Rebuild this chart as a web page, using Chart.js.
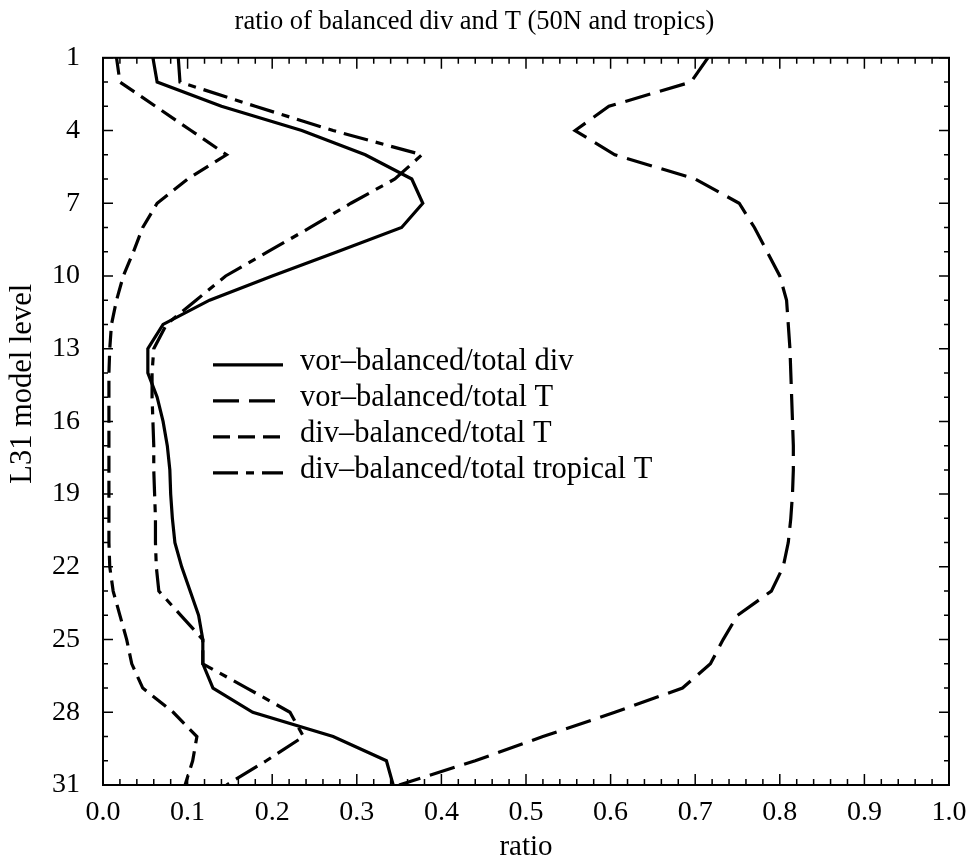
<!DOCTYPE html>
<html>
<head>
<meta charset="utf-8">
<title>ratio of balanced div and T (50N and tropics)</title>
<script src="https://cdn.jsdelivr.net/npm/chart.js@4.4.1/dist/chart.umd.min.js"></script>
<style>
  html, body { margin: 0; padding: 0; background: #fff; }
  #wrap { width: 979px; height: 865px; }
</style>
</head>
<body>
<div id="wrap"><canvas id="ratio-chart" width="979" height="865"></canvas></div>
<script>
// ---- data ----
const levels = [1, 2, 3, 4, 5, 6, 7, 8, 9, 10, 11, 12, 13, 14, 15, 16,
                17, 18, 19, 20, 21, 22, 23, 24, 25, 26, 27, 28, 29, 30, 31];

// vor-balanced / total div  (solid)
const vorDiv = [0.059, 0.064, 0.140, 0.235, 0.310, 0.365, 0.378, 0.353, 0.277, 0.200,
                0.126, 0.071, 0.053, 0.053, 0.064, 0.071, 0.076, 0.079, 0.080, 0.082,
                0.085, 0.093, 0.103, 0.113, 0.118, 0.118, 0.130, 0.177, 0.272, 0.335, 0.343];

// vor-balanced / total T  (long dash)
const vorT = [0.715, 0.695, 0.598, 0.558, 0.605, 0.700, 0.752, 0.770, 0.785, 0.800,
              0.808, 0.810, 0.812, 0.813, 0.814, 0.815, 0.816, 0.816, 0.815, 0.813,
              0.810, 0.804, 0.790, 0.750, 0.733, 0.718, 0.685, 0.605, 0.520, 0.440, 0.350];

// div-balanced / total T  (short dash)
const divT = [0.016, 0.020, 0.062, 0.104, 0.146, 0.100, 0.064, 0.047, 0.036, 0.024,
              0.016, 0.010, 0.008, 0.007, 0.007, 0.007, 0.007, 0.007, 0.007, 0.007,
              0.007, 0.008, 0.012, 0.020, 0.028, 0.034, 0.047, 0.083, 0.111, 0.106, 0.097];

// div-balanced / total tropical T  (dash-dot)
const divTropT = [0.089, 0.091, 0.180, 0.272, 0.377, 0.345, 0.293, 0.245, 0.195, 0.145,
                  0.110, 0.075, 0.060, 0.058, 0.058, 0.059, 0.060, 0.060, 0.061, 0.062,
                  0.062, 0.063, 0.066, 0.092, 0.118, 0.118, 0.170, 0.221, 0.237, 0.193, 0.146];

const seriesLabels = ['vor\u2013balanced/total div', 'vor\u2013balanced/total T',
                      'div\u2013balanced/total T', 'div\u2013balanced/total tropical T'];
const levelTicks = [1, 4, 7, 10, 13, 16, 19, 22, 25, 28, 31];
const ratioTicks = [0.0, 0.1, 0.2, 0.3, 0.4, 0.5, 0.6, 0.7, 0.8, 0.9, 1.0];

const FONT = '"Liberation Serif", "Times New Roman", serif';
const dashes = [[], [26, 10], [17, 8], [25, 8, 8, 8]];

function toPoints(values) {
    return values.map((v, i) => ({ x: v, y: levels[i] }));
}

const datasets = [vorDiv, vorT, divT, divTropT].map((vals, i) => ({
    label: seriesLabels[i],
    data: toPoints(vals),
    borderColor: '#000',
    borderWidth: 3.2,
    borderDash: dashes[i],
    pointRadius: 0,
    tension: 0,
    fill: false
}));

// inward ticks on all four sides, frame, legend box and y title
const frameTicks = {
    id: 'frameTicks',
    afterDatasetsDraw(chart) {
        const { ctx, chartArea: a, scales: { x, y } } = chart;
        ctx.save();
        ctx.strokeStyle = '#000';
        ctx.fillStyle = '#000';
        ctx.lineWidth = 1.5;
        ctx.beginPath();
        for (let i = 0; i <= 50; i++) {
            const px = x.getPixelForValue(i / 50);
            const len = i % 5 === 0 ? 11 : 6;
            ctx.moveTo(px, a.bottom); ctx.lineTo(px, a.bottom - len);
            ctx.moveTo(px, a.top); ctx.lineTo(px, a.top + len);
        }
        for (let lev = levels[0]; lev <= levels[levels.length - 1]; lev++) {
            const py = y.getPixelForValue(lev);
            const len = levelTicks.includes(lev) ? 10 : 5;
            ctx.moveTo(a.left, py); ctx.lineTo(a.left + len, py);
            ctx.moveTo(a.right, py); ctx.lineTo(a.right - len, py);
        }
        ctx.stroke();
        ctx.lineWidth = 2;
        ctx.strokeRect(a.left, a.top, a.right - a.left, a.bottom - a.top);

        // legend
        const lx = a.left + 110;
        ctx.font = '30.5px ' + FONT;
        ctx.textAlign = 'left';
        ctx.textBaseline = 'alphabetic';
        chart.data.datasets.forEach((ds, i) => {
            const ly = a.top + 307 + i * 36;
            ctx.lineWidth = 3.2;
            ctx.setLineDash(ds.borderDash);
            ctx.beginPath();
            ctx.moveTo(lx, ly);
            ctx.lineTo(lx + 70, ly);
            ctx.stroke();
            ctx.setLineDash([]);
            ctx.fillText(ds.label, lx + 87, ly + 5);
        });

        // y axis title
        ctx.translate(23, a.top + 326);
        ctx.rotate(-Math.PI / 2);
        ctx.textAlign = 'center';
        ctx.textBaseline = 'middle';
        ctx.fillText('L31 model level', 0, 0);
        ctx.restore();
    }
};

const ctx = document.getElementById('ratio-chart').getContext('2d');
new Chart(ctx, {
    type: 'line',
    data: { datasets: datasets },
    options: {
        responsive: false,
        animation: false,
        devicePixelRatio: 1,
        layout: { padding: { left: 0, right: 30, top: 0, bottom: 0 } },
        scales: {
            x: {
                type: 'linear',
                min: 0,
                max: 1,
                grid: { display: false, drawTicks: false },
                border: { display: false },
                afterBuildTicks: s => { s.ticks = ratioTicks.map(v => ({ value: v })); },
                afterFit: s => { s.height = 80; },
                ticks: {
                    color: '#000',
                    padding: 11,
                    maxRotation: 0,
                    autoSkip: false,
                    font: { family: FONT, size: 28 },
                    callback: v => v.toFixed(1)
                },
                title: {
                    display: true,
                    text: 'ratio',
                    color: '#000',
                    padding: 0,
                    font: { family: FONT, size: 29 }
                }
            },
            y: {
                type: 'linear',
                reverse: true,
                min: 1,
                max: 31,
                grid: { display: false, drawTicks: false },
                border: { display: false },
                afterBuildTicks: s => { s.ticks = levelTicks.map(v => ({ value: v })); },
                afterFit: s => { s.width = 103; },
                ticks: {
                    color: '#000',
                    padding: 23,
                    autoSkip: false,
                    font: { family: FONT, size: 28 }
                }
            }
        },
        plugins: {
            legend: { display: false },
            tooltip: { enabled: false },
            title: {
                display: true,
                text: 'ratio of balanced div and T (50N and tropics)',
                color: '#000',
                padding: { top: 6, bottom: 20 },
                font: { family: FONT, size: 26.5, weight: 'normal' }
            }
        }
    },
    plugins: [frameTicks]
});
</script>
</body>
</html>
